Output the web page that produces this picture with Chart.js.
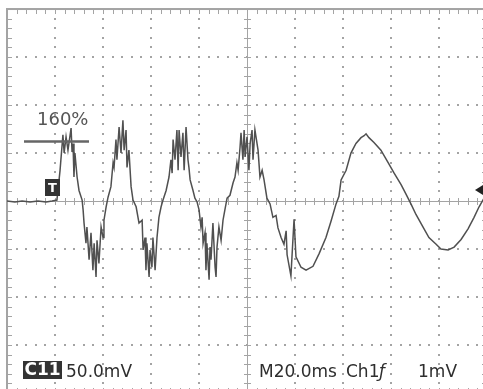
<!DOCTYPE html>
<html>
<head>
<meta charset="utf-8">
<script src="https://cdn.jsdelivr.net/npm/chart.js@4.4.1/dist/chart.umd.min.js"></script>
<style>
    html, body { margin: 0; padding: 0; background: #ffffff; }
    #scope { display: block; }
</style>
</head>
<body>
<canvas id="scope" width="483" height="389"></canvas>
<script>
// ── Trace data (time in ms, voltage in mV) ──

const timeMs = [
    0, 3.3, 6.3, 9.6, 12.9, 16.3, 18.8, 20.8,
    22.1, 23.3, 23.8, 24.6, 25.4, 26.7, 27.1, 27.5, 27.9, 28.3, 29.2, 30.0, 31.3, 31.7,
    32.1, 32.9, 33.3, 34.2, 35.0, 35.8, 36.3, 37.1, 37.5, 38.3, 39.2, 40.0, 40.4, 41.3, 42.1, 43.3,
    44.2, 44.6, 45.4, 45.8, 46.7, 47.5, 48.3, 48.8, 49.6, 50.0, 50.8, 51.7, 52.5, 53.8, 55.0, 56.3,
    56.7, 57.5, 57.9, 58.3, 59.2, 59.6, 60.4, 60.8, 61.7, 62.5, 63.3, 64.2, 65.0, 66.3, 67.5,
    68.3, 68.8, 69.2, 70.0, 70.8, 71.3, 71.7, 72.5, 73.3, 73.8, 74.6, 75.4, 75.8, 76.3, 77.5, 78.3, 79.2, 80.0,
    80.8, 81.3, 81.7, 82.5, 82.9, 83.3, 84.2, 84.6, 85.0, 85.8, 86.7, 87.1, 87.5, 88.3, 89.2, 90.0, 90.8,
    91.7, 92.9, 94.2, 95.0, 95.8, 96.3,
    97.1, 97.5, 98.3, 98.8, 99.2, 100.0, 100.8, 101.3, 102.1, 102.5, 103.3, 104.6, 105.4, 106.3, 107.1,
    108.3, 109.6, 110.8, 112.1, 112.9, 114.2, 115.4, 116.3, 116.7, 118.3, 119.6, 120.4,
    122.5, 124.6, 127.5, 130.0, 132.9, 135.0, 137.1, 138.3, 139.2, 141.3, 143.3, 145.4,
    147.5, 148.8, 149.6, 150.8, 152.9, 155.8, 158.8, 161.3, 164.2, 166.3, 168.3, 170.4,
    173.3, 175.8, 178.8, 180.8, 183.8, 186.3, 189.2, 192.1, 194.6, 196.7, 198.8
];

const voltMv = [
    0, -1, 0, -1, 0, -1, 0, 1,
    32, 69, 50, 67, 53, 76, 51, 60, 25, 50, 25, 11, 1, -9,
    -23, -44, -27, -61, -33, -72, -44, -79, -41, -65, -27, -38, -20, -6, 4, 15,
    40, 35, 64, 43, 77, 50, 84, 53, 74, 35, 53, 15, 1, -6, -23, -20,
    -51, -38, -72, -44, -79, -51, -69, -38, -72, -38, -17, -6, 1, 11, 25,
    43, 29, 64, 43, 74, 32, 74, 46, 71, 32, 77, 43, 35, 22, 11, 3, -1, -9,
    -27, -17, -44, -33, -72, -44, -82, -48, -61, -23, -69, -79, -48, -27, -41, -20, -9,
    3, 6, 19, 25, 40, 32,
    56, 71, 43, 74, 46, 67, 32, 60, 74, 43, 74, 53, 25, 32, 22,
    3, -3, -17, -15, -28, -38, -45, -31, -56, -78, -19, -58,
    -69, -72, -68, -55, -38, -21, -3, 5, 22, 32, 50, 60,
    66, 68, 70, 66, 61, 53, 40, 29, 17, 7, -3, -14,
    -27, -38, -45, -50, -51, -48, -40, -29, -17, -6, 3
];

// ── Scope settings ────────────────────────────────────────

const TIME_PER_DIV = 20;   // ms
const VOLT_PER_DIV = 50;   // mV
const H_DIVS = 10;
const V_DIVS = 8;
const MINOR = 5;

// visible window of the screen photo (graticule runs off right / bottom)
const VIEW_T = [-2.92, 198.33];
const VIEW_V = [-195.8, 209.4];

const GRID_COLOR  = '#a4a4a4';
const TRACE_COLOR = '#505050';
const TEXT_COLOR  = '#2e2e2e';

// ── Graticule ─────────────────────────────────────────────

const graticulePlugin = {
    id: 'graticule',
    beforeDatasetsDraw(chart) {
        const { ctx, scales: { x, y } } = chart;
        const xl = x.getPixelForValue(0);
        const xr = x.getPixelForValue(H_DIVS * TIME_PER_DIV);
        const yt = y.getPixelForValue(V_DIVS / 2 * VOLT_PER_DIV);
        const yb = y.getPixelForValue(-V_DIVS / 2 * VOLT_PER_DIV);
        const xc = x.getPixelForValue(H_DIVS / 2 * TIME_PER_DIV);
        const yc = y.getPixelForValue(0);
        const dx = (xr - xl) / H_DIVS, dy = (yb - yt) / V_DIVS;
        const mx = dx / MINOR, my = dy / MINOR;

        ctx.save();
        ctx.fillStyle = GRID_COLOR;

        // dotted division lines
        for (let i = 1; i < H_DIVS; i++) {
            if (i === H_DIVS / 2) continue;
            const px = xl + i * dx;
            for (let k = 1; k < V_DIVS * MINOR; k++) {
                ctx.fillRect(Math.round(px) - 1, Math.round(yt + k * my) - 1, 2, 2);
            }
        }
        for (let j = 1; j < V_DIVS; j++) {
            if (j === V_DIVS / 2) continue;
            const py = yt + j * dy;
            for (let k = 1; k < H_DIVS * MINOR; k++) {
                ctx.fillRect(Math.round(xl + k * mx) - 1, Math.round(py) - 1, 2, 2);
            }
        }

        // centre cross with minor ticks
        ctx.strokeStyle = GRID_COLOR;
        ctx.lineWidth = 1;
        ctx.beginPath();
        ctx.moveTo(xl, Math.round(yc) + 0.5); ctx.lineTo(xr, Math.round(yc) + 0.5);
        ctx.moveTo(Math.round(xc) + 0.5, yt); ctx.lineTo(Math.round(xc) + 0.5, yb);
        for (let k = 1; k < H_DIVS * MINOR; k++) {
            const px = Math.round(xl + k * mx) + 0.5;
            ctx.moveTo(px, yc - 3); ctx.lineTo(px, yc + 4);
        }
        for (let k = 1; k < V_DIVS * MINOR; k++) {
            const py = Math.round(yt + k * my) + 0.5;
            ctx.moveTo(xc - 3, py); ctx.lineTo(xc + 4, py);
        }
        ctx.stroke();

        // frame with inward ticks
        ctx.beginPath();
        for (let k = 1; k < H_DIVS * MINOR; k++) {
            const px = Math.round(xl + k * mx) + 0.5;
            ctx.moveTo(px, yt); ctx.lineTo(px, yt + 5);
            ctx.moveTo(px, yb); ctx.lineTo(px, yb - 5);
        }
        for (let k = 1; k < V_DIVS * MINOR; k++) {
            const py = Math.round(yt + k * my) + 0.5;
            ctx.moveTo(xl, py); ctx.lineTo(xl + 5, py);
            ctx.moveTo(xr, py); ctx.lineTo(xr - 5, py);
        }
        ctx.stroke();
        ctx.lineWidth = 2;
        ctx.strokeRect(xl, yt, xr - xl, yb - yt);
        ctx.restore();
    }
};

// ── Screen readouts ───────────────────────────────────────

function darkTag(ctx, text, x, y, w, h, font) {
    ctx.fillStyle = '#333333';
    ctx.fillRect(x, y, w, h);
    ctx.fillStyle = '#ffffff';
    ctx.font = font;
    ctx.textAlign = 'center';
    ctx.textBaseline = 'middle';
    ctx.fillText(text, x + w / 2, y + h / 2 + 1);
}

const readoutPlugin = {
    id: 'readouts',
    afterDraw(chart) {
        const ctx = chart.ctx;
        ctx.save();

        // 160% cursor
        ctx.strokeStyle = '#666666';
        ctx.lineWidth = 2.5;
        ctx.beginPath();
        ctx.moveTo(24, 141.5); ctx.lineTo(89, 141.5);
        ctx.stroke();
        ctx.fillStyle = '#555555';
        ctx.font = '18px "DejaVu Sans"';
        ctx.textAlign = 'left';
        ctx.textBaseline = 'alphabetic';
        ctx.fillText('160%', 37, 125);

        // trigger marker
        darkTag(ctx, 'T', 45, 179, 15, 17, 'bold 13px "DejaVu Sans"');

        // trigger level arrow on right edge
        ctx.fillStyle = '#222222';
        ctx.beginPath();
        ctx.moveTo(475, 190); ctx.lineTo(483, 185); ctx.lineTo(483, 195);
        ctx.closePath();
        ctx.fill();

        // bottom status line
        darkTag(ctx, 'C11', 23, 361, 39, 18, 'bold 17px "DejaVu Sans"');
        ctx.fillStyle = TEXT_COLOR;
        ctx.font = '17px "DejaVu Sans"';
        ctx.textAlign = 'left';
        ctx.textBaseline = 'alphabetic';
        ctx.fillText('50.0mV', 66, 377);
        ctx.fillText('M20.0ms', 259, 377);
        ctx.fillText('Ch1', 346, 377);
        ctx.font = 'italic 17px "DejaVu Sans"';
        ctx.fillText('ƒ', 379, 377);
        ctx.font = '17px "DejaVu Sans"';
        ctx.fillText('1mV', 418, 377);
        ctx.restore();
    }
};

// ── Chart ─────────────────────────────────────────────────

function renderScope() {
    const ctx = document.getElementById('scope').getContext('2d');
    const points = timeMs.map((t, i) => ({ x: t, y: voltMv[i] }));

    new Chart(ctx, {
        type: 'line',
        data: {
            datasets: [{
                data: points,
                borderColor: TRACE_COLOR,
                borderWidth: 1.5,
                pointRadius: 0,
                tension: 0,
                fill: false
            }]
        },
        options: {
            responsive: false,
            animation: false,
            layout: { padding: 0 },
            plugins: {
                legend:  { display: false },
                tooltip: { enabled: false }
            },
            scales: {
                x: { type: 'linear', min: VIEW_T[0], max: VIEW_T[1], display: false },
                y: { type: 'linear', min: VIEW_V[0], max: VIEW_V[1], display: false }
            }
        },
        plugins: [graticulePlugin, readoutPlugin]
    });
}

renderScope();
</script>
</body>
</html>
